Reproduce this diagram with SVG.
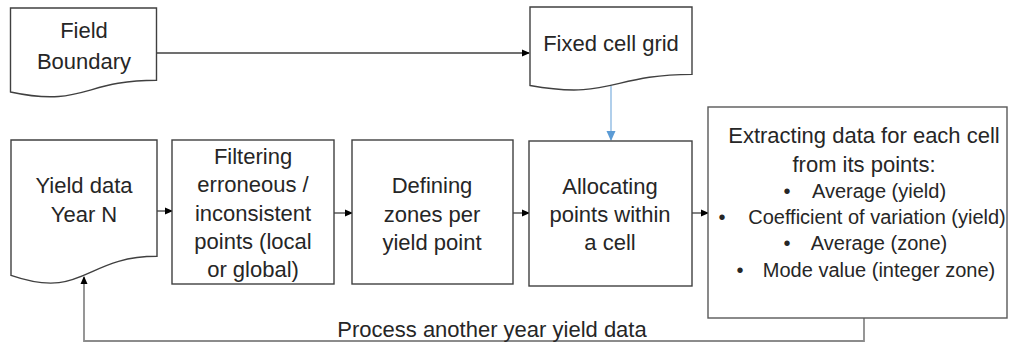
<svg xmlns="http://www.w3.org/2000/svg" width="1010" height="343" viewBox="0 0 1010 343">
<style>
.shape{fill:#ffffff;stroke:#404040;stroke-width:1.4}
.t{font-family:"Liberation Sans",Arial,sans-serif;font-size:22px;fill:#262626;text-anchor:middle}
.h{font-family:"Liberation Sans",Arial,sans-serif;font-size:22px;fill:#262626;text-anchor:middle}
.b{font-family:"Liberation Sans",Arial,sans-serif;font-size:20px;fill:#262626;text-anchor:middle}
.c{fill:none;stroke:#404040;stroke-width:1.3}
.cb{fill:none;stroke:#9DC3E6;stroke-width:1.6}
.cg{fill:none;stroke:#8C8C8C;stroke-width:1.8}
</style>
<defs>
<marker id="ah" markerWidth="8" markerHeight="8" refX="7" refY="4" orient="auto" markerUnits="userSpaceOnUse">
<path d="M0,0.5 L8,4 L0,7.5 Z" fill="#000000"/>
</marker>
<marker id="ahb" markerWidth="10" markerHeight="10" refX="9" refY="5" orient="auto" markerUnits="userSpaceOnUse">
<path d="M0,0.5 L10,5 L0,9.5 Z" fill="#5B9BD5"/>
</marker>
</defs>
<rect width="1010" height="343" fill="#ffffff"/>
<g id="connectors">
<line class="c" x1="157" y1="53" x2="529" y2="53" marker-end="url(#ah)"/>
<line class="cb" x1="611" y1="86" x2="611" y2="140" marker-end="url(#ahb)"/>
<line class="c" x1="157" y1="211" x2="172" y2="211" marker-end="url(#ah)"/>
<line class="c" x1="334" y1="213" x2="352" y2="213" marker-end="url(#ah)"/>
<line class="c" x1="513" y1="213" x2="529" y2="213" marker-end="url(#ah)"/>
<line class="c" x1="692" y1="213" x2="708" y2="213" marker-end="url(#ah)"/>
<polyline class="cg" points="864,318 864,341 84,341 84,277" marker-end="url(#ah)"/>
<text class="t" x="492" y="337">Process another year yield data</text>
</g>
<g id="field-boundary">
<path class="shape" d="M10.5,8 H156.5 V80.2 C83.5,80.2 83.5,107.7 10.5,92 Z"/>
<text class="t" x="84" y="38">Field</text>
<text class="t" x="84" y="69">Boundary</text>
</g>
<g id="fixed-cell-grid">
<path class="shape" d="M530,7 H692 V74.4 C611,74.4 611,100 530,85.5 Z"/>
<text class="t" x="611" y="51">Fixed cell grid</text>
</g>
<g id="yield-data">
<path class="shape" d="M11,140 H157 V256.3 C84,256.3 84,300.6 11,275.4 Z"/>
<text class="t" x="84" y="193">Yield data</text>
<text class="t" x="84" y="222">Year N</text>
</g>
<g id="filtering">
<rect class="shape" x="172" y="140" width="162" height="144"/>
<text class="t" x="253" y="164">Filtering</text>
<text class="t" x="253" y="192">erroneous /</text>
<text class="t" x="253" y="221">inconsistent</text>
<text class="t" x="253" y="249">points (local</text>
<text class="t" x="253" y="277">or global)</text>
</g>
<g id="defining-zones">
<rect class="shape" x="352" y="140" width="161" height="144"/>
<text class="t" x="432" y="193">Defining</text>
<text class="t" x="432" y="222">zones per</text>
<text class="t" x="432" y="250">yield point</text>
</g>
<g id="allocating">
<rect class="shape" x="529" y="141" width="163" height="145"/>
<text class="t" x="610" y="194">Allocating</text>
<text class="t" x="610" y="222">points within</text>
<text class="t" x="610" y="250">a cell</text>
</g>
<g id="extracting">
<rect class="shape" x="708" y="107" width="299" height="211" style="stroke:#595959"/>
<text class="h" x="864" y="143">Extracting data for each cell</text>
<text class="h" x="864" y="172">from its points:</text>
<text class="b" x="787" y="198">•</text>
<text class="b" x="879" y="198">Average (yield)</text>
<text class="b" x="722" y="224">•</text>
<text class="b" x="877" y="224">Coefficient of variation (yield)</text>
<text class="b" x="787" y="250">•</text>
<text class="b" x="879" y="250">Average (zone)</text>
<text class="b" x="740" y="277">•</text>
<text class="b" x="879" y="277">Mode value (integer zone)</text>
</g>
</svg>
